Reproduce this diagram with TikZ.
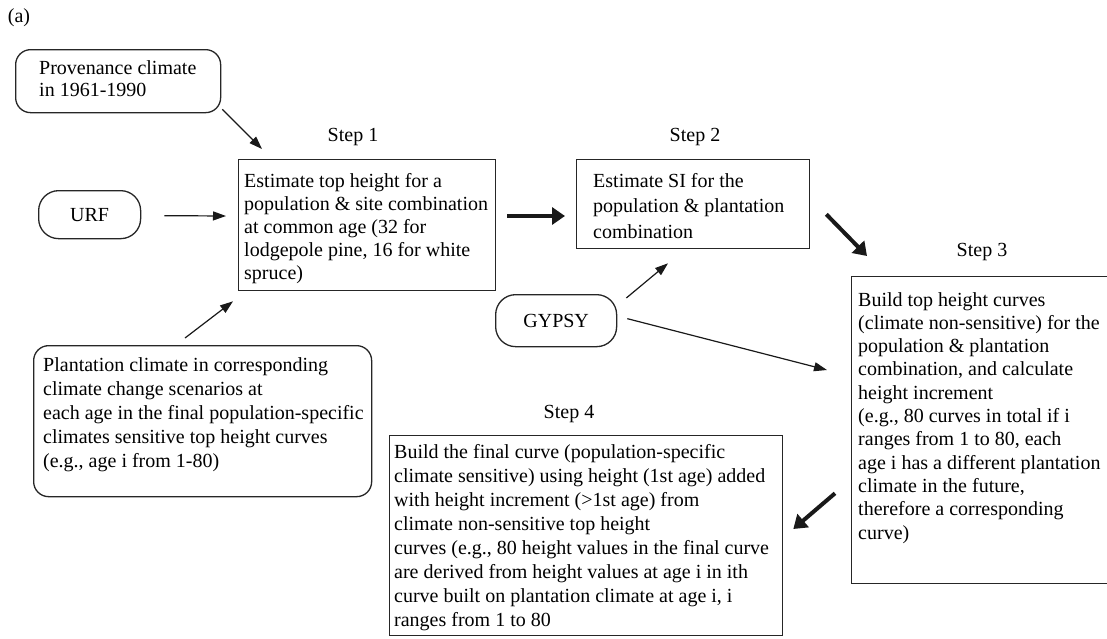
\documentclass[tikz,border=0pt]{standalone}
\usepackage{fontspec}
\setmainfont{Liberation Serif}
\usetikzlibrary{arrows.meta,calc}
\begin{document}
\begin{tikzpicture}[x=1pt,y=-1pt,
  box/.style={draw=black!85, line width=1.3pt, inner sep=0pt, anchor=north west},
  rbox/.style={box, rounded corners=15pt},
  txt/.style={anchor=base west, inner sep=0pt, align=left},
  lbl/.style={inner sep=0pt, font=\fontsize{20}{23}\selectfont},
  thin/.style={draw=black!90, line width=1.2pt, -{Triangle[length=13pt,width=9pt]}},
  thick/.style={draw=black!90, line width=4pt, -{Triangle[length=13pt,width=17pt]}}]
\clip (0,0) rectangle (1107,638);
\fill[white] (0,0) rectangle (1107,638);

\node[lbl] (a) at (19,18) {(a)};

% boxes (text nodes anchored at the baseline of their last line)
\node[rbox, minimum width=205pt, minimum height=63pt] (prov) at (15,49) {};
\node[txt, font=\fontsize{20}{22}\selectfont] (provt) at (39,96) {Provenance climate\\in 1961-1990};

\node[rbox, rounded corners=20pt, minimum width=102pt, minimum height=48pt, font=\fontsize{20}{23}\selectfont] (urf) at (38,190) {URF};

\node[box, minimum width=257pt, minimum height=131pt] (s1) at (238,159) {};
\node[txt, font=\fontsize{20}{23}\selectfont] (s1t) at (244,279) {Estimate top height for a\\population \& site combination\\at common age (32 for\\lodgepole pine, 16 for white\\spruce)};

\node[box, minimum width=233pt, minimum height=89pt] (s2) at (576,159) {};
\node[txt, font=\fontsize{20}{25.5}\selectfont] (s2t) at (593,238) {Estimate SI for the\\population \& plantation\\combination};

\node[rbox, rounded corners=20pt, minimum width=121pt, minimum height=52pt, font=\fontsize{20}{23}\selectfont] (gypsy) at (495,294) {GYPSY};

\node[box, minimum width=300pt, minimum height=307pt] (s3) at (851,276) {};
\node[txt, font=\fontsize{20}{23.3}\selectfont] (s3t) at (858,539) {Build top height curves\\(climate non-sensitive) for the\\population \& plantation\\combination, and calculate\\height increment\\(e.g., 80 curves in total if i\\ranges from 1 to 80, each\\age i has a different plantation\\climate in the future,\\therefore a corresponding\\curve)};

\node[box, minimum width=393pt, minimum height=200pt] (s4) at (389,435) {};
\node[txt, font=\fontsize{20}{24}\selectfont] (s4t) at (394,626) {Build the final curve (population-specific\\climate sensitive) using height (1st age) added\\with height increment (>1st age) from\\climate non-sensitive top height\\curves (e.g., 80 height values in the final curve\\are derived from height values at age i in ith\\curve built on plantation climate at age i, i\\ranges from 1 to 80};

\node[rbox, minimum width=338pt, minimum height=151pt] (plant) at (33,345) {};
\node[txt, font=\fontsize{20}{24}\selectfont] (plantt) at (43,467) {Plantation climate in corresponding\\climate change scenarios at\\each age in the final population-specific\\climates sensitive top height curves\\(e.g., age i from 1-80)};

% step labels
\node[lbl] (st1) at (353,137) {Step 1};
\node[lbl] (st2) at (695,137) {Step 2};
\node[lbl] (st3) at (982,252) {Step 3};
\node[lbl] (st4) at (569,414) {Step 4};

% connectors
\draw[thin] ($(prov.south east)+(1,-4)$) -- ($(s1.north west)+(24,-10)$);
\draw[thin] ($(urf.east)+(23,1)$) -- ($(s1.north west)+(-12,57)$);
\draw[thin] ($(plant.north west)+(152,-7)$) -- ($(s1.south west)+(-5,10)$);
\draw[thick] ($(s1.north east)+(11,57)$) -- ($(s2.north west)+(-11,57)$);
\draw[thick] ($(s2.south east)+(16,-35)$) -- ($(s3.north west)+(16,-20)$);
\draw[thin] ($(gypsy.north east)+(9,4)$) -- ($(s2.south west)+(92,14)$);
\draw[thin] ($(gypsy.east)+(10,-2)$) -- ($(s3.north west)+(-24,94)$);
\draw[thick] ($(s3.south west)+(-16,-91)$) -- ($(s4.north east)+(10,94)$);
\end{tikzpicture}
\end{document}
